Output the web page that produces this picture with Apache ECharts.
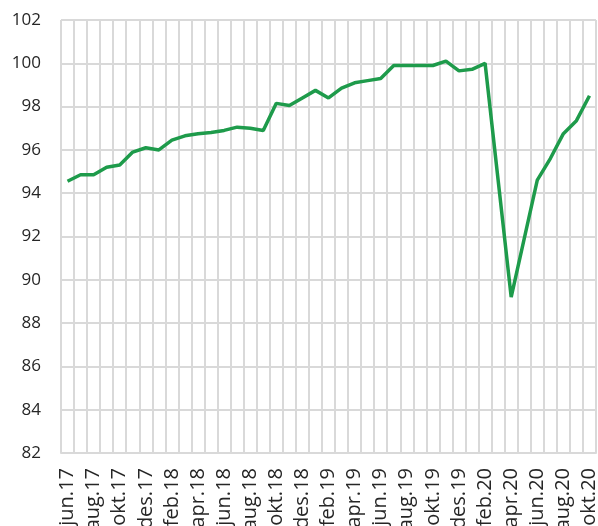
<!DOCTYPE html>
<html>
<head>
<meta charset="utf-8">
<script src="https://cdn.jsdelivr.net/npm/echarts@6/dist/echarts.min.js"></script>
<style>
  html, body { margin: 0; padding: 0; background: #fff; }
  #main { width: 598px; height: 526px; }
</style>
</head>
<body>
<div id="main"></div>
<script>
let months = ['jun.17', 'jul.17', 'aug.17', 'sep.17', 'okt.17', 'nov.17', 'des.17',
    'jan.18', 'feb.18', 'mar.18', 'apr.18', 'mai.18', 'jun.18', 'jul.18', 'aug.18', 'sep.18', 'okt.18', 'nov.18', 'des.18',
    'jan.19', 'feb.19', 'mar.19', 'apr.19', 'mai.19', 'jun.19', 'jul.19', 'aug.19', 'sep.19', 'okt.19', 'nov.19', 'des.19',
    'jan.20', 'feb.20', 'mar.20', 'apr.20', 'mai.20', 'jun.20', 'jul.20', 'aug.20', 'sep.20', 'okt.20'];

let values = [94.55, 94.85, 94.85, 95.2, 95.3, 95.9, 96.1,
    96.0, 96.45, 96.65, 96.75, 96.8, 96.9, 97.05, 97.0, 96.9, 98.15, 98.05, 98.4,
    98.75, 98.4, 98.85, 99.1, 99.2, 99.3, 99.9, 99.9, 99.9, 99.9, 100.1, 99.65,
    99.72, 100.0, 94.6, 89.2, 91.9, 94.6, 95.6, 96.75, 97.35, 98.5];

let yMin = 82, yMax = 102, yStep = 2;

let chartDom = document.getElementById('main');
let myChart = echarts.init(chartDom);
let option;

option = {
    animation: false,
    textStyle: { fontFamily: 'Open Sans' },
    grid: {
        left: 61,
        right: 2,
        top: 20,
        bottom: 73,
        containLabel: false,
        outerBoundsMode: 'none'
    },
    xAxis: {
        type: 'category',
        data: months,
        boundaryGap: true,
        axisLine: {
            show: true,
            lineStyle: { color: '#d9d9d9', width: 2 }
        },
        axisTick: { show: false },
        axisLabel: {
            interval: 1,
            rotate: 90,
            margin: 15,
            fontSize: 20,
            color: '#262626',
            fontFamily: 'Open Sans'
        },
        splitLine: {
            show: true,
            interval: 0,
            lineStyle: { color: '#d9d9d9', width: 2 }
        }
    },
    yAxis: {
        type: 'value',
        min: yMin,
        max: yMax,
        interval: yStep,
        axisLine: { show: false },
        axisTick: { show: false },
        axisLabel: {
            margin: 20,
            fontSize: 17,
            color: '#262626',
            fontFamily: 'Open Sans'
        },
        splitLine: {
            lineStyle: { color: '#d9d9d9', width: 2 }
        }
    },
    series: [
        {
            type: 'line',
            data: values,
            showSymbol: false,
            lineStyle: {
                color: '#1e9b4b',
                width: 3.5
            }
        }
    ]
};

option && myChart.setOption(option);
</script>
</body>
</html>
